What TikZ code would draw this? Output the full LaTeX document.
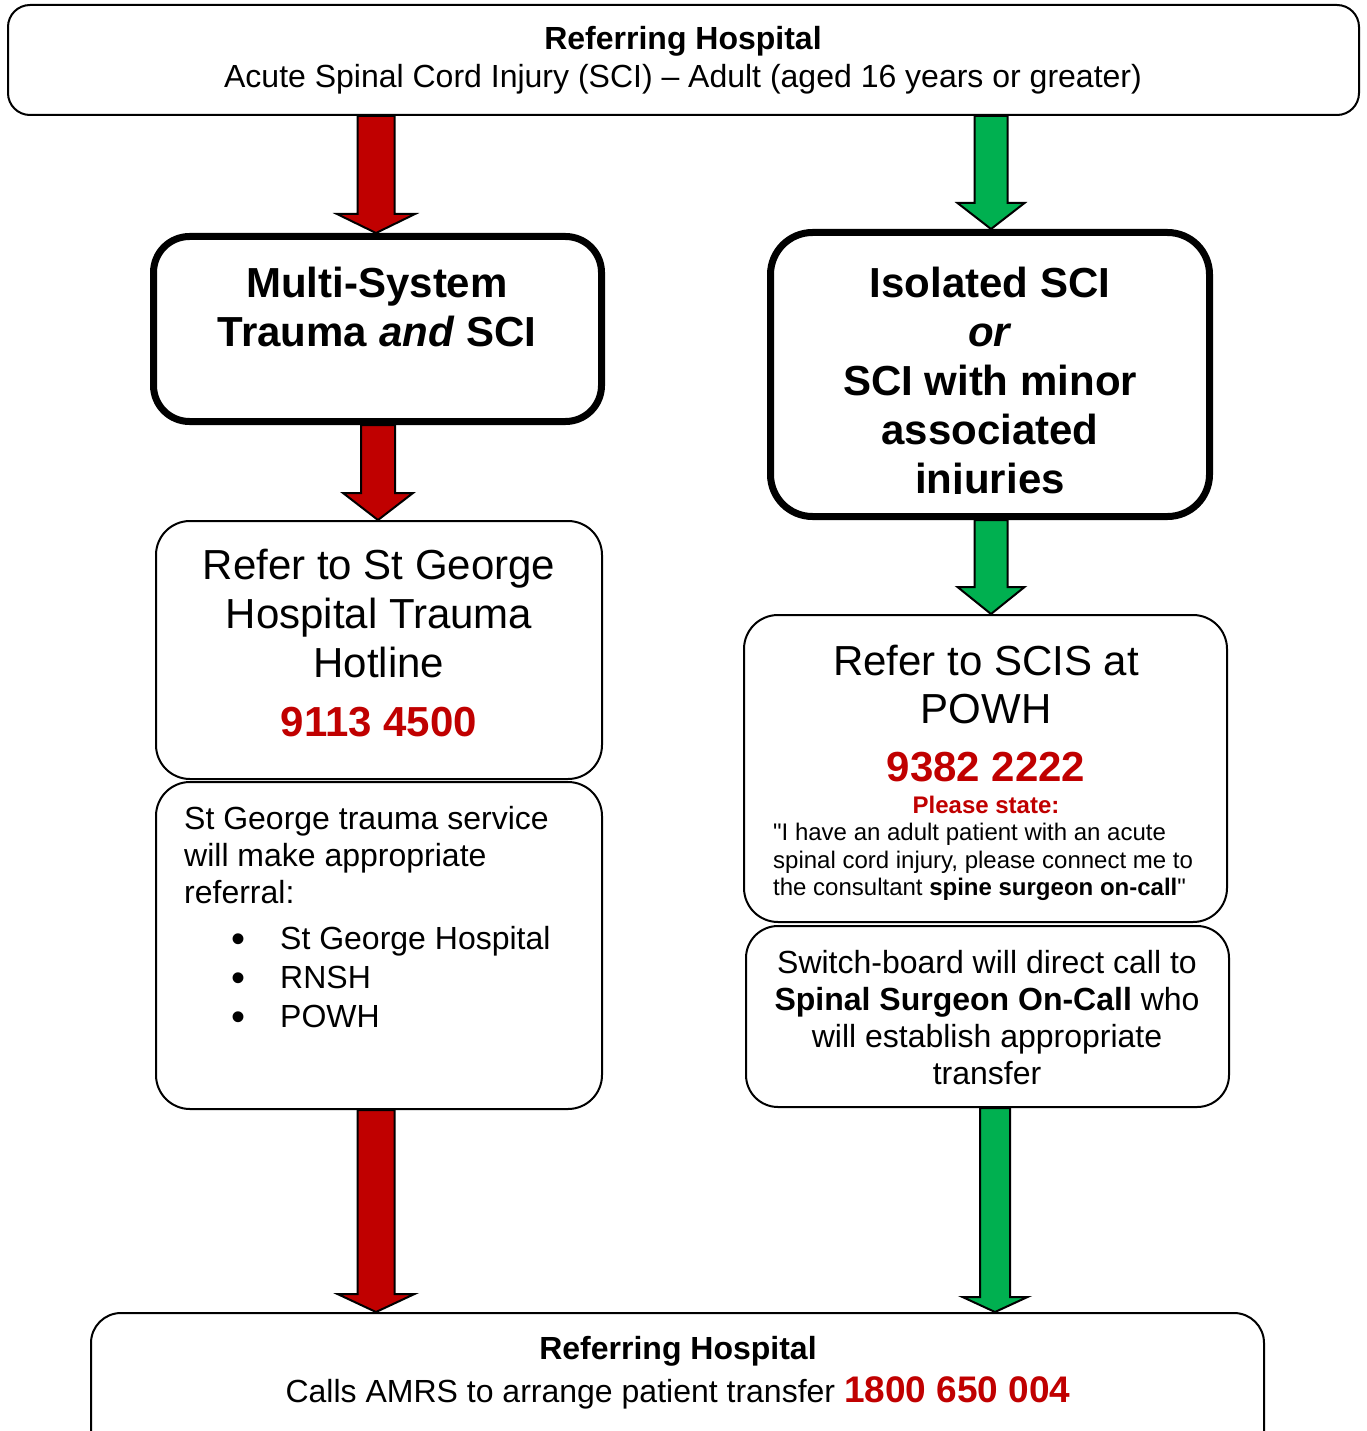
\documentclass[tikz,border=0pt]{standalone}
\usepackage{fontspec}
\setmainfont{Liberation Sans}[Ligatures=TeXOff]
\usetikzlibrary{fit,calc,backgrounds}
\definecolor{ared}{HTML}{C00000}
\definecolor{agreen}{HTML}{00B050}
\newcommand\fsz[2]{\fontsize{#1}{#2}\selectfont}
% src, tgt, x, colour, shaft half width, head half width, head length
\newcommand\blockarrow[7]{%
  \path[arrowline, fill=#4] let \p1=(#1.south), \p2=(#2.north), \p3=(#3,0) in
    (\x3-#5pt,\y1) -- (\x3-#5pt,\y2+#7pt) -- (\x3-#6pt,\y2+#7pt) -- (\x3,\y2)
    -- (\x3+#6pt,\y2+#7pt) -- (\x3+#5pt,\y2+#7pt) -- (\x3+#5pt,\y1) -- cycle;}
\begin{document}
\begin{tikzpicture}[x=1pt,y=-1pt,
  thinbox/.style={draw, line width=2pt, rounded corners=#1, inner sep=0pt},
  thinbox/.default=34pt,
  thickbox/.style={draw, line width=7pt, rounded corners=#1, inner sep=0pt},
  thickbox/.default=38pt,
  txt/.style={inner sep=0pt, align=center},
  arrowline/.style={draw=black, line width=2pt, line join=miter}]
\useasboundingbox (0,0) rectangle (1366,1431);

% boxes
\node[thinbox=22pt, fit={(8,5) (1359,115)}] (top) {};
\node[thickbox=36pt, fit={(153.5,236.5) (601.5,421.5)}] (multi) {};
\node[thickbox=42pt, fit={(770.5,232.5) (1209.5,516.5)}] (iso) {};
\node[thinbox, fit={(156,521) (602,779)}] (referG) {};
\node[thinbox, fit={(156,782) (602,1109)}] (stg) {};
\node[thinbox, fit={(744,615) (1227,922)}] (scis) {};
\node[thinbox=32pt, fit={(746,926) (1229,1107)}] (switch) {};
\node[thinbox=30pt, fit={(91,1313) (1264,1475)}] (bottom) {};

% texts
\node[txt, font=\fsz{32}{38}] (ttop) at (683,60)
  {\textbf{Referring Hospital}\\Acute Spinal Cord Injury (SCI) – Adult (aged 16 years or greater)};
\node[txt, font=\bfseries\fsz{42}{49}] (tmulti) at (377,307)
  {Multi-System\\Trauma \textit{and} SCI};
\begin{scope}
  \clip (770,236) rectangle (1210,493);
  \node[txt, font=\bfseries\fsz{42}{49}] (tiso) at (990,385)
    {Isolated SCI\\\textit{or}\\SCI with minor\\associated\\injuries};
\end{scope}
\node[txt, font=\fsz{42}{49}] (treferG) at (379,614)
  {Refer to St George\\Hospital Trauma\\Hotline};
\node[txt, font=\bfseries\fsz{42}{49}, text=ared] (numG) at (379,722) {9113 4500};
\node[txt, font=\fsz{32}{37}, align=left, anchor=west] (tstg) at (184,855)
  {St George trauma service\\will make appropriate\\referral:};
\foreach \i/\t/\yy in {1/St George Hospital/938, 2/RNSH/977, 3/POWH/1016}{
  \node[txt, font=\fsz{40}{40}] (dot\i) at (238,\yy+5) {\textbullet};
  \node[txt, font=\fsz{32}{37}, anchor=west, text height=23pt, text depth=7pt] (item\i) at (280,\yy+3) {\t};
}
\node[txt, font=\fsz{42}{48}] (tscis) at (986,685) {Refer to SCIS at\\POWH};
\node[txt, font=\bfseries\fsz{42}{49}, text=ared] (numS) at (986,767) {9382 2222};
\node[txt, font=\bfseries\fsz{24}{28}, text=ared] (please) at (986,805) {Please state:};
\node[txt, font=\fsz{24}{27.5}, align=left, anchor=west] (quote) at (773,862)
  {"I have an adult patient with an acute\\spinal cord injury, please connect me to\\the consultant \textbf{spine surgeon on-call}"};
\node[txt, font=\fsz{32}{37}] (tswitch) at (987,1018)
  {Switch-board will direct call to\\\textbf{Spinal Surgeon On-Call} who\\will establish appropriate\\transfer};
\node[txt, font=\bfseries\fsz{32}{38}] (tbot1) at (678,1351) {Referring Hospital};
\node[txt, font=\fsz{32}{38}] (tbot2) at (678,1393)
  {Calls AMRS to arrange patient transfer {\bfseries\color{ared}\fsz{37}{40}1800 650 004}};

% arrows
\begin{scope}[on background layer]
\blockarrow{top}{multi}{376}{ared}{18.5}{39}{19}
\blockarrow{top}{iso}{991}{agreen}{16.5}{33.5}{26}
\blockarrow{multi}{referG}{378}{ared}{17}{35}{27}
\blockarrow{iso}{scis}{991}{agreen}{16.5}{33.5}{27}
\blockarrow{stg}{bottom}{376}{ared}{18.5}{38.5}{18}
\blockarrow{switch}{bottom}{995}{agreen}{15}{32.5}{15}
\end{scope}
\end{tikzpicture}
\end{document}
